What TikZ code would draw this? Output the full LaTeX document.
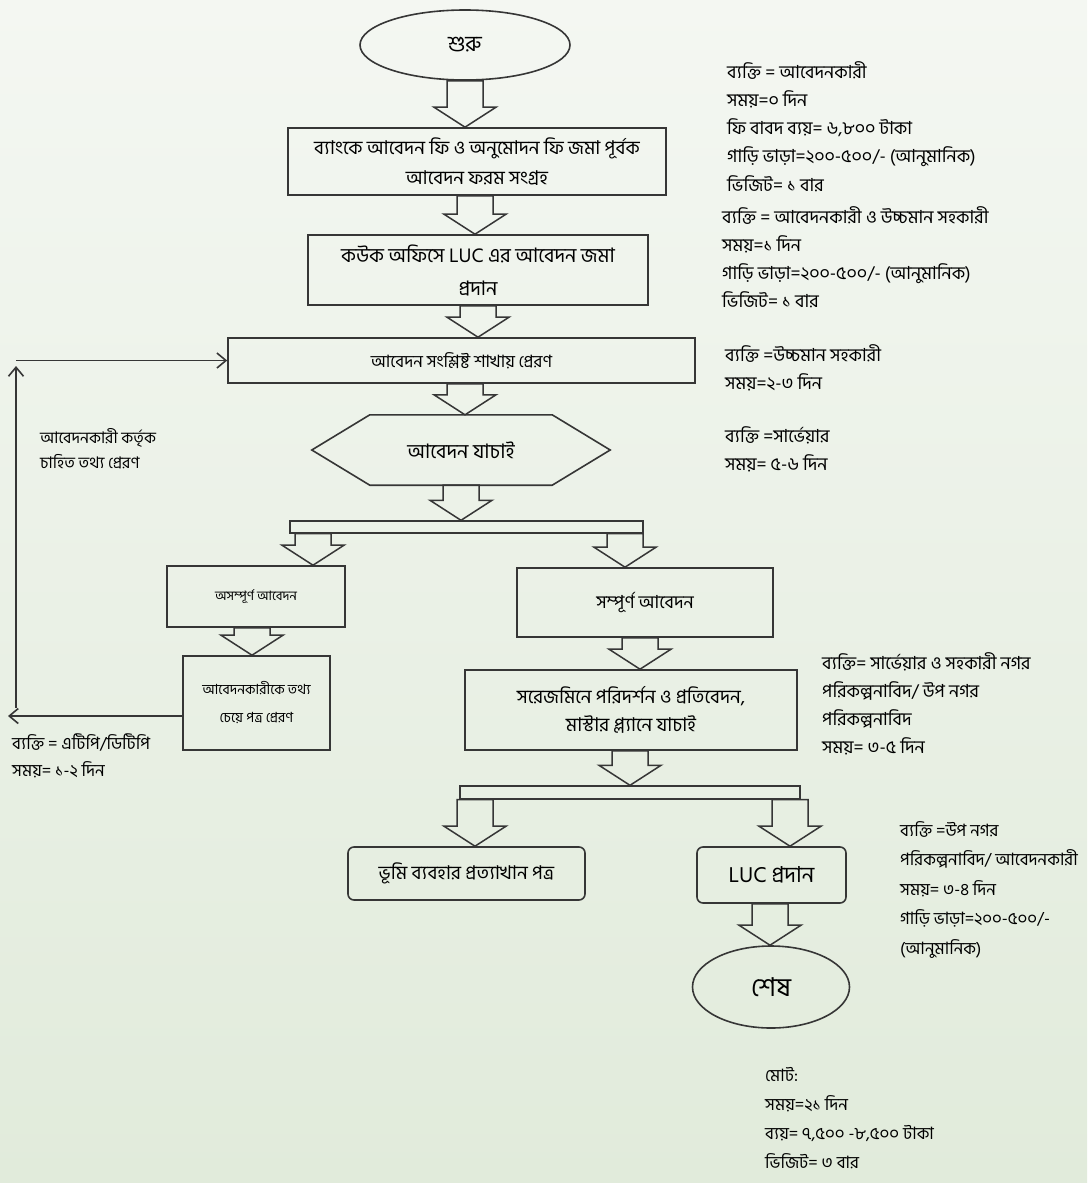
\documentclass[tikz,border=0pt]{standalone}
\usepackage{fontspec}
\setmainfont[Script=Bengali]{Hind Siliguri}
\usetikzlibrary{arrows.meta,positioning,shapes.geometric,calc}
\definecolor{PageTop}{HTML}{F4F7F2}
\definecolor{PageBot}{HTML}{E1EBDB}
\definecolor{Ink}{HTML}{363636}

% hollow block arrow at x=#1 from the y of #2 down to the y of #3
\newcommand{\blockdown}[3]{%
  \coordinate (ba1) at (#1,0 |- #2);
  \coordinate (ba2) at (#1,0 |- #3);
  \draw[blk] let \p1=(ba1), \p2=(ba2) in
    (\x1-18pt,\y1) -- (\x1-18pt,\y2+20pt) -- (\x1-31pt,\y2+20pt) -- (\x1,\y2)
    -- (\x1+31pt,\y2+20pt) -- (\x1+18pt,\y2+20pt) -- (\x1+18pt,\y1) -- cycle;}

\begin{document}
\begin{tikzpicture}[x=1pt,y={(0,-1pt)},
  fs/.style args={#1/#2}{font=\fontsize{#1}{#2}\selectfont},
  s/.style={draw=Ink,line width=1.6pt,align=center,inner sep=0pt},
  r/.style={s,rounded corners=6pt},
  e/.style={s,ellipse},
  bar/.style={draw=Ink,line width=1.4pt,inner sep=0pt},
  blk/.style={draw=Ink,line width=1.5pt,line join=miter},
  fb/.style={draw=Ink,line width=1.6pt,-{Straight Barb[length=9pt,width=15pt,line width=1.6pt]}},
  note/.style={align=left,inner sep=0pt,anchor=north west,fs=18/28.3}]
  \shade[top color=PageTop,bottom color=PageBot] (0,0) rectangle (1087,1183);

  \node[e,fs=22/28,minimum width=210,minimum height=70] (start) at (465,45) {শুরু};
  \node[s,fs=19/30,minimum width=378,minimum height=67] (app) at (477,161.5) {ব্যাংকে আবেদন ফি ও অনুমোদন ফি জমা পূর্বক\\আবেদন ফরম সংগ্রহ};
  \node[s,fs=20/33,minimum width=340,minimum height=70] (sub) at (478,270) {কউক অফিসে LUC এর আবেদন জমা\\প্রদান};
  \node[s,fs=17/24,minimum width=467,minimum height=45] (fwd) at (461.5,360.5) {আবেদন সংশ্লিষ্ট শাখায় প্রেরণ};
  \node[fs=20/24,minimum width=298,minimum height=70,inner sep=0pt] (chk) at (461,450) {আবেদন যাচাই};
  \draw[s] (chk.west) -- ($(chk.north west)+(58,0)$) -- ($(chk.north east)+(-58,0)$) -- (chk.east)
    -- ($(chk.south east)+(-58,0)$) -- ($(chk.south west)+(58,0)$) -- cycle;
  \node[bar,minimum width=353,minimum height=12] (split1) at (466.5,527) {};
  \node[s,fs=13/20,minimum width=178,minimum height=61] (inc) at (256,596.5) {অসম্পূর্ণ আবেদন};
  \node[s,fs=18/24,minimum width=256,minimum height=69] (cmp) at (645,602.5) {সম্পূর্ণ আবেদন};
  \node[s,fs=14/28,minimum width=147,minimum height=94] (ask) at (256.5,703) {আবেদনকারীকে তথ্য\\চেয়ে পত্র প্রেরণ};
  \node[s,fs=19/28,minimum width=332,minimum height=80] (insp) at (631,710) {সরেজমিনে পরিদর্শন ও প্রতিবেদন,\\মাস্টার প্ল্যানে যাচাই};
  \node[bar,minimum width=340,minimum height=13] (split2) at (630,792.5) {};
  \node[r,fs=19/24,minimum width=237,minimum height=53] (rej) at (466.5,873.5) {ভূমি ব্যবহার প্রত্যাখান পত্র};
  \node[r,fs=22/26,minimum width=149,minimum height=56] (luc) at (771.5,875) {LUC প্রদান};
  \node[e,fs=26/30,minimum width=157,minimum height=82] (stop) at (771,987) {শেষ};

  \foreach \px/\a/\b in {465/start.south/app.north,475/app.south/sub.north,478/sub.south/fwd.north,
    465/fwd.south/chk.north,461/chk.south/split1.north,313/split1.south/inc.north,625/split1.south/cmp.north,
    252/inc.south/ask.north,640/cmp.south/insp.north,630/insp.south/split2.north,
    475/split2.south/rej.north,790/split2.south/luc.north,770/luc.south/stop.north}
    {\blockdown{\px}{\a}{\b}}

  % loop back to the branch office
  \coordinate (fbl) at (8,716);
  \coordinate (fbb) at (16,708);
  \coordinate (fbt) at (16,366);
  \draw[fb] (ask.west |- fbl) -- (fbl);
  \draw[fb] (fbb) -- (fbt);
  \draw[fb] (fbb |- fwd.west) -- (fwd.west);
  \node[note,fs=16/25] (back) at (40,428) {আবেদনকারী কর্তৃক\\চাহিত তথ্য প্রেরণ};

  \node[note] (n1) at (727,61) {ব্যক্তি = আবেদনকারী\\সময়=০ দিন\\ফি বাবদ ব্যয়= ৬,৮০০ টাকা\\গাড়ি ভাড়া=২০০-৫০০/- (আনুমানিক)\\ভিজিট= ১ বার};
  \node[note] (n2) at (722,206) {ব্যক্তি = আবেদনকারী ও উচ্চমান সহকারী\\সময়=১ দিন\\গাড়ি ভাড়া=২০০-৫০০/- (আনুমানিক)\\ভিজিট= ১ বার};
  \node[note] (n3) at (725,344) {ব্যক্তি =উচ্চমান সহকারী\\সময়=২-৩ দিন};
  \node[note] (n4) at (725,426) {ব্যক্তি =সার্ভেয়ার\\সময়= ৫-৬ দিন};
  \node[note,fs=17/27] (n5) at (12,734) {ব্যক্তি = এটিপি/ডিটিপি\\সময়= ১-২ দিন};
  \node[note] (n6) at (822,652) {ব্যক্তি= সার্ভেয়ার ও সহকারী নগর\\পরিকল্পনাবিদ/ উপ নগর\\পরিকল্পনাবিদ\\সময়= ৩-৫ দিন};
  \node[note,fs=17/29.5] (n7) at (900,821) {ব্যক্তি =উপ নগর\\পরিকল্পনাবিদ/ আবেদনকারী\\সময়= ৩-৪ দিন\\গাড়ি ভাড়া=২০০-৫০০/-\\(আনুমানিক)};
  \node[note,fs=17/29] (tot) at (765,1067) {মোট:\\সময়=২১ দিন\\ব্যয়= ৭,৫০০ -৮,৫০০ টাকা\\ভিজিট= ৩ বার};
\end{tikzpicture}
\end{document}
